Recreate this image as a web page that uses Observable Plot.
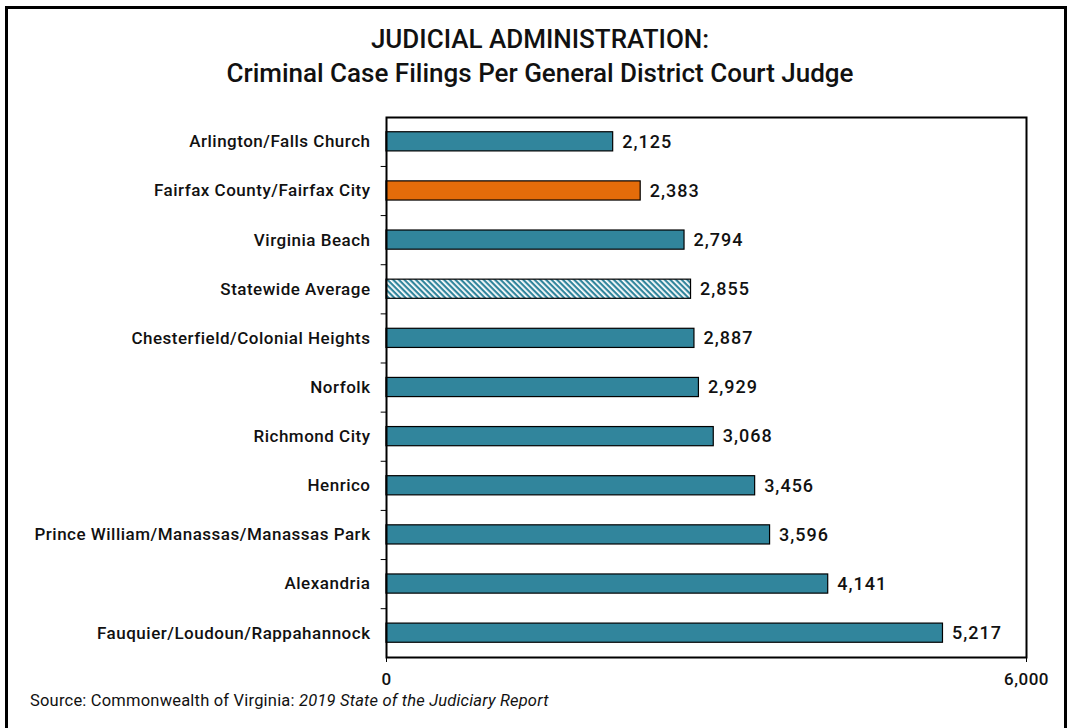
<!DOCTYPE html>
<html>
<head>
<meta charset="utf-8">
<script src="https://cdn.jsdelivr.net/npm/d3@7"></script>
<script src="https://cdn.jsdelivr.net/npm/@observablehq/plot@0.6"></script>
<style>
  html, body { margin: 0; padding: 0; background: #fff; width: 1073px; height: 728px; overflow: hidden; }
  body { font-family: Roboto, sans-serif; position: relative; }
  #border { position: absolute; left: 5px; top: 6px; width: 1062px; height: 740px; border: 3px solid #000; box-sizing: border-box; }
  #title { position: absolute; left: 0; width: 1080px; top: 22px; text-align: center; font-size: 26px; font-weight: 500; line-height: 34px; color: #111; }
  #chart { position: absolute; left: 0; top: 100px; }
  #source { position: absolute; left: 30px; top: 691px; font-size: 16.5px; letter-spacing: 0.2px; color: #111; }
  #chart svg text { letter-spacing: 0.5px; }
  #chart svg g.vals text { letter-spacing: 1px; }
</style>
</head>
<body>
<div id="border"></div>
<div id="title">JUDICIAL ADMINISTRATION:<br>Criminal Case Filings Per General District Court Judge</div>
<div id="chart"></div>
<div id="source">Source: Commonwealth of Virginia: <i>2019 State of the Judiciary Report</i></div>
<script>
const categories = [
  "Arlington/Falls Church",
  "Fairfax County/Fairfax City",
  "Virginia Beach",
  "Statewide Average",
  "Chesterfield/Colonial Heights",
  "Norfolk",
  "Richmond City",
  "Henrico",
  "Prince William/Manassas/Manassas Park",
  "Alexandria",
  "Fauquier/Loudoun/Rappahannock"
];
const values = [2125, 2383, 2794, 2855, 2887, 2929, 3068, 3456, 3596, 4141, 5217];
const kinds = ["teal", "orange", "teal", "hatch", "teal", "teal", "teal", "teal", "teal", "teal", "teal"];
const xTicks = [0, 6000];

const fills = { teal: "#31859C", orange: "#E46C0A", hatch: "url(#hatch)" };
const data = categories.map((c, i) => ({ name: c, value: values[i], kind: kinds[i] }));

const plot = Plot.plot({
  width: 1073,
  height: 590,
  marginLeft: 386,
  marginRight: 47,
  marginTop: 17,
  marginBottom: 33,
  style: { fontFamily: 'Roboto, sans-serif', background: "transparent", overflow: "visible" },
  x: { domain: [0, 6000], ticks: xTicks, tickFormat: d3.format(","), label: null },
  y: { domain: categories, paddingInner: 0.61, paddingOuter: 0.3, round: false, label: null },
  marks: [
    Plot.barX(data, { y: "name", x: "value", fill: d => fills[d.kind], stroke: "#000", strokeWidth: 1.2 }),
    Plot.text(data, { y: "name", x: "value", text: d => d3.format(",")(d.value), dx: 9, textAnchor: "start", fontSize: 18, fontWeight: 500, fill: "#111", className: "vals" }),
    Plot.ruleY(categories.slice(1), { y: d => d, x1: -50, x2: 0, dy: -24.5, stroke: "#000", strokeWidth: 1 }),
    Plot.frame({ stroke: "#000", strokeWidth: 2 }),
    Plot.axisY({ tickSize: 0, tickPadding: 16, fontSize: 17, fontWeight: 500, fill: "#111" }),
    Plot.axisX({ ticks: xTicks, tickFormat: d3.format(","), tickSize: 5, tickPadding: 10, fontSize: 17, fontWeight: 500, label: null, fill: "#111" })
  ]
});

// hatch pattern definition
const ns = "http://www.w3.org/2000/svg";
const defs = document.createElementNS(ns, "defs");
defs.innerHTML = `<pattern id="hatch" patternUnits="userSpaceOnUse" width="4" height="4" patternTransform="rotate(45)">
  <rect width="4" height="4" fill="#ffffff"/>
  <rect width="4" height="2.2" fill="#31859C"/>
</pattern>`;
plot.insertBefore(defs, plot.firstChild);

document.getElementById("chart").appendChild(plot);
</script>
</body>
</html>
